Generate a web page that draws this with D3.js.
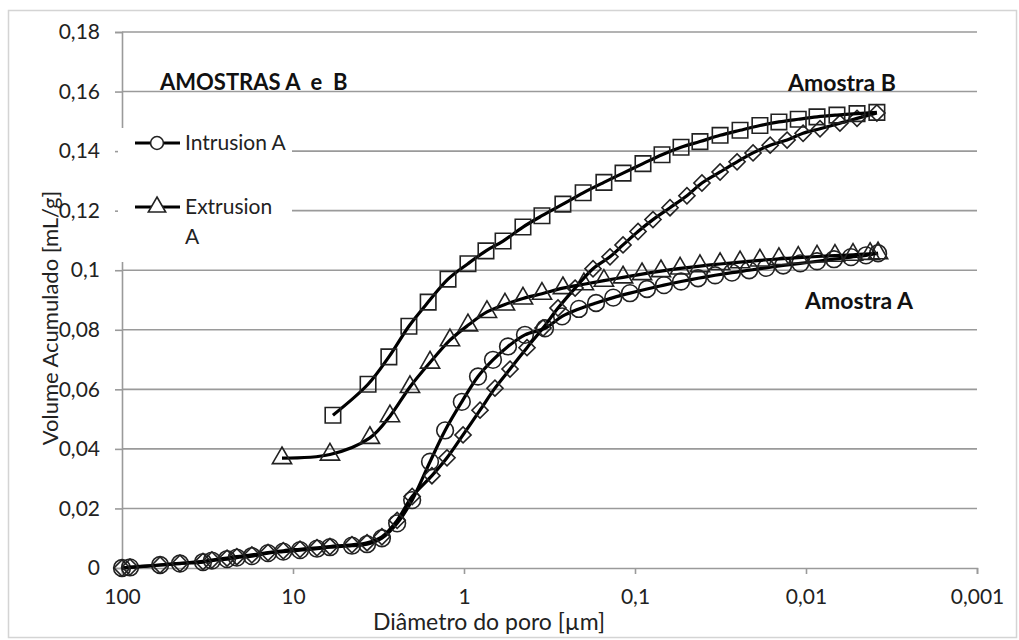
<!DOCTYPE html>
<html>
<head>
<meta charset="utf-8">
<script src="https://cdn.jsdelivr.net/npm/d3@7"></script>
<style>
  body { margin: 0; background: #fff; }
  svg { font-family: Lato, "Noto Sans", sans-serif; }
</style>
</head>
<body>
<div id="chart"></div>
<script>
// pore diameter (µm) and cumulative volume (mL/g)
const intrusionA_d = [100, 89.8, 59.9, 45.8, 33.6, 29.8, 24.3, 21.3, 17.4, 14.0, 11.4, 9.1, 7.24, 6.08, 4.52, 3.69, 3.02, 2.46, 2.01,
  1.58, 1.29, 1.03, 0.828, 0.677, 0.553, 0.440, 0.336, 0.267, 0.213, 0.169, 0.134, 0.107, 0.0851, 0.0677, 0.0538, 0.0428,
  0.0340, 0.0271, 0.0215, 0.0171, 0.0136, 0.0108, 0.00862, 0.00686, 0.00546, 0.00446, 0.00379]
const intrusionA_v = [0, 0.0002, 0.001, 0.0015, 0.002, 0.0025, 0.003, 0.0035, 0.004, 0.005, 0.0055, 0.006, 0.0065, 0.007, 0.0075, 0.008, 0.010, 0.015, 0.0228,
  0.0357, 0.0462, 0.0558, 0.0643, 0.0699, 0.0744, 0.0783, 0.0805, 0.0845, 0.0870, 0.0890, 0.0908, 0.0923, 0.0937, 0.0950, 0.0962, 0.0973,
  0.0983, 0.0992, 0.1000, 0.1008, 0.1016, 0.1023, 0.1030, 0.1037, 0.1044, 0.1050, 0.1057]

const extrusionA_d = [11.6, 6.08, 3.55, 2.71, 2.07, 1.58, 1.208, 0.948, 0.734, 0.576, 0.452, 0.350, 0.264, 0.199, 0.152, 0.1175,
  0.0910, 0.0705, 0.0545, 0.0417, 0.0318, 0.0243, 0.0186, 0.0144, 0.0111, 0.00862, 0.00677, 0.00531, 0.00422, 0.00379]
const extrusionA_v = [0.0369, 0.0381, 0.0437, 0.0510, 0.0608, 0.0690, 0.0765, 0.0815, 0.0860, 0.0885, 0.0905, 0.0921, 0.0940, 0.0953, 0.0965, 0.0976,
  0.0987, 0.0997, 0.1006, 0.1014, 0.1021, 0.1027, 0.1033, 0.1038, 0.1042, 0.1046, 0.1049, 0.1052, 0.1055, 0.1057]

const intrusionB_d = [100, 89.8, 59.9, 45.8, 33.6, 29.8, 24.3, 21.3, 17.4, 14.0, 11.4, 9.1, 7.24, 6.08, 4.52, 3.69, 3.02, 2.46, 2.01,
  1.54, 1.257, 1.013, 0.806, 0.659, 0.538, 0.428, 0.345, 0.282, 0.224, 0.176, 0.140, 0.1175, 0.0960, 0.0785, 0.0624, 0.0497,
  0.0406, 0.0318, 0.0253, 0.0204, 0.0162, 0.0129, 0.0104, 0.00828, 0.00633, 0.00503, 0.00385]
const intrusionB_v = [0, 0.0003, 0.001, 0.0016, 0.0022, 0.0027, 0.0033, 0.0038, 0.0044, 0.0052, 0.0058, 0.0063, 0.0068, 0.0072, 0.0078, 0.0085, 0.0105, 0.016, 0.024,
  0.031, 0.037, 0.0447, 0.053, 0.0604, 0.0668, 0.0740, 0.0806, 0.0873, 0.094, 0.1005, 0.1045, 0.1085, 0.113, 0.117, 0.121, 0.125,
  0.1293, 0.133, 0.1364, 0.1394, 0.142, 0.1437, 0.146, 0.1475, 0.1494, 0.151, 0.1528]

const extrusionB_d = [5.84, 3.64, 2.75, 2.10, 1.62, 1.24, 0.948, 0.744, 0.591, 0.452, 0.350, 0.264, 0.201, 0.152, 0.1175,
  0.0898, 0.0695, 0.0538, 0.0417, 0.0318, 0.0243, 0.0186, 0.0144, 0.0111, 0.00862, 0.00659, 0.00503, 0.00385]
const extrusionB_v = [0.0513, 0.0617, 0.0709, 0.0812, 0.0893, 0.0970, 0.1022, 0.1065, 0.1098, 0.1145, 0.1183, 0.1222, 0.1260, 0.1295, 0.1326,
  0.1358, 0.1388, 0.1413, 0.1432, 0.1453, 0.1470, 0.1486, 0.1498, 0.1507, 0.1515, 0.1521, 0.1526, 0.1530]

const xTicks = [100, 10, 1, 0.1, 0.01, 0.001]
const xTickLabels = ["100", "10", "1", "0,1", "0,01", "0,001"]
const yTicks = [0, 0.02, 0.04, 0.06, 0.08, 0.1, 0.12, 0.14, 0.16, 0.18]
const yTickLabels = ["0", "0,02", "0,04", "0,06", "0,08", "0,1", "0,12", "0,14", "0,16", "0,18"]

const series = [
  { name: "Intrusion A", d: intrusionA_d, v: intrusionA_v, marker: "circle" },
  { name: "Extrusion A", d: extrusionA_d, v: extrusionA_v, marker: "triangle" },
  { name: "Intrusion B", d: intrusionB_d, v: intrusionB_v, marker: "diamond" },
  { name: "Extrusion B", d: extrusionB_d, v: extrusionB_v, marker: "square" }
]

const W = 1019, H = 640
const margin = { top: 32, right: 42, bottom: 72, left: 122 }
const width = W - margin.left - margin.right
const height = H - margin.top - margin.bottom

const svg = d3.select("#chart").append("svg")
  .attr("width", W)
  .attr("height", H)

// chart frame
svg.append("rect")
  .attr("x", 8.5).attr("y", 10.5)
  .attr("width", 1008).attr("height", 627)
  .attr("fill", "#fff")
  .attr("stroke", "#d4d4d4")
  .attr("stroke-width", 1.5)

const g = svg.append("g")
  .attr("transform", "translate(" + margin.left + "," + margin.top + ")")

const x = d3.scaleLog().domain([100, 0.001]).range([0, width])
const y = d3.scaleLinear().domain([0, 0.18]).range([height, 0])

// horizontal grid
g.selectAll(".grid")
  .data(yTicks.slice(1))
  .enter().append("line")
  .attr("class", "grid")
  .attr("x1", 0).attr("x2", width)
  .attr("y1", d => y(d)).attr("y2", d => y(d))
  .attr("stroke", "#9a9a9a")
  .attr("stroke-width", 1.6)

// axes
const xAxis = d3.axisBottom(x)
  .tickValues(xTicks)
  .tickFormat((d, i) => xTickLabels[i])
  .tickSize(6)
  .tickPadding(15)

const yAxis = d3.axisLeft(y)
  .tickValues(yTicks)
  .tickFormat((d, i) => yTickLabels[i])
  .tickSize(7)
  .tickPadding(15)

const gx = g.append("g")
  .attr("transform", "translate(0," + height + ")")
  .call(xAxis)
const gy = g.append("g").call(yAxis)

gx.select(".domain").attr("stroke", "#9a9a9a").attr("stroke-width", 1.6)
gy.select(".domain").attr("stroke", "#9a9a9a").attr("stroke-width", 1.6)
gx.selectAll(".tick line").attr("stroke", "#9a9a9a").attr("stroke-width", 1.6)
gy.selectAll(".tick line").attr("stroke", "#9a9a9a").attr("stroke-width", 1.6)
gx.selectAll("text").attr("font-size", 21).attr("fill", "#222").attr("font-family", "Lato, sans-serif")
gy.selectAll("text").attr("font-size", 21).attr("fill", "#222").attr("font-family", "Lato, sans-serif")

// markers
const symbolFor = {
  circle: d3.symbol().type(d3.symbolCircle).size(220),
  triangle: d3.symbol().type(d3.symbolTriangle).size(160),
  diamond: d3.symbol().type(d3.symbolSquare).size(130),
  square: d3.symbol().type(d3.symbolSquare).size(240)
}
const rotFor = { circle: 0, triangle: 0, diamond: 45, square: 0 }

const line = d3.line()
  .x(p => x(p[0]))
  .y(p => y(p[1]))
  .curve(d3.curveCatmullRom.alpha(0.5))

series.forEach(s => {
  const pts = s.d.map((d, i) => [d, s.v[i]])
  const sg = g.append("g").attr("class", "series")

  sg.append("path")
    .datum(pts)
    .attr("d", line)
    .attr("fill", "none")
    .attr("stroke", "#000")
    .attr("stroke-width", 3.2)

  sg.selectAll(".mk")
    .data(pts)
    .enter().append("path")
    .attr("class", "mk")
    .attr("d", symbolFor[s.marker])
    .attr("transform", p => "translate(" + x(p[0]) + "," + y(p[1]) + ") rotate(" + rotFor[s.marker] + ")")
    .attr("fill", "none")
    .attr("stroke", "#222")
    .attr("stroke-width", 1.6)
})

// legend (covers the grid behind it)
const legend = g.append("g")
legend.append("rect")
  .attr("x", -4).attr("y", 96)
  .attr("width", 174).attr("height", 134)
  .attr("fill", "#fff")

const legendItems = [
  { label: ["Intrusion A"], marker: "circle", yy: 111 },
  { label: ["Extrusion", "A"], marker: "triangle", yy: 175 }
]
legendItems.forEach(it => {
  legend.append("line")
    .attr("x1", 13).attr("x2", 58)
    .attr("y1", it.yy).attr("y2", it.yy)
    .attr("stroke", "#000").attr("stroke-width", 3.2)
  legend.append("path")
    .attr("d", d3.symbol().type(it.marker === "circle" ? d3.symbolCircle : d3.symbolTriangle).size(130))
    .attr("transform", "translate(35," + it.yy + ")")
    .attr("fill", "#fff")
    .attr("stroke", "#222")
    .attr("stroke-width", 1.6)
  it.label.forEach((t, k) => {
    legend.append("text")
      .attr("x", 63)
      .attr("y", it.yy + 7 + k * 30)
      .attr("font-size", 21)
      .attr("fill", "#222")
      .text(t)
  })
})

// annotations
g.append("text")
  .attr("x", 38).attr("y", 58)
  .attr("font-size", 22).attr("font-weight", "bold").attr("fill", "#111")
  .attr("xml:space", "preserve")
  .text("AMOSTRAS A  e  B")

g.append("text")
  .attr("x", 666).attr("y", 59)
  .attr("font-size", 23).attr("font-weight", "bold").attr("fill", "#111")
  .text("Amostra B")

g.append("text")
  .attr("x", 683).attr("y", 277)
  .attr("font-size", 23).attr("font-weight", "bold").attr("fill", "#111")
  .text("Amostra A")

// axis titles
svg.append("text")
  .attr("x", 489)
  .attr("y", 630)
  .attr("text-anchor", "middle")
  .attr("font-size", 23).attr("fill", "#222")
  .text("Diâmetro do poro [µm]")

svg.append("text")
  .attr("transform", "translate(58," + 318 + ") rotate(-90)")
  .attr("text-anchor", "middle")
  .attr("font-size", 22).attr("fill", "#222")
  .text("Volume Acumulado [mL/g]")
</script>
</body>
</html>
